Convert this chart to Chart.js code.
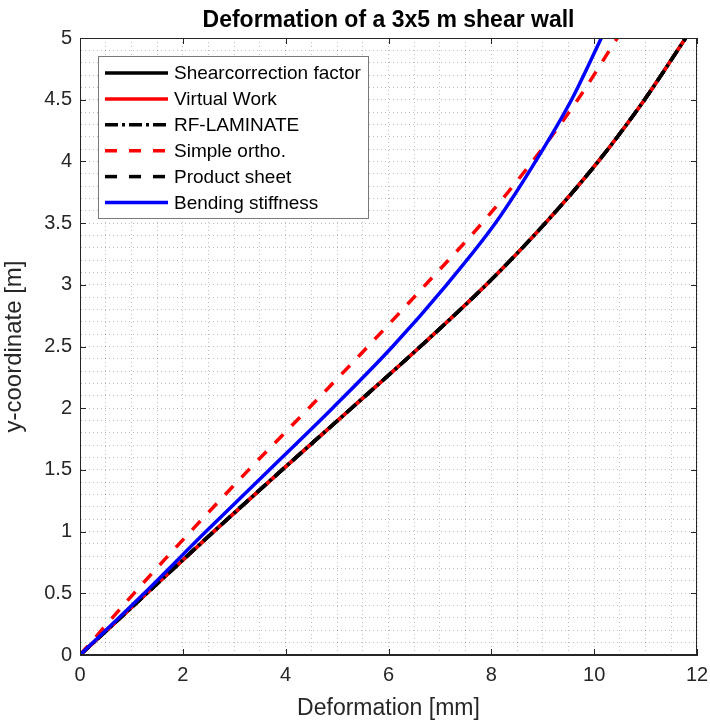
<!DOCTYPE html>
<html>
<head>
<meta charset="utf-8">
<script src="https://cdn.jsdelivr.net/npm/chart.js@4.4.0/dist/chart.umd.min.js"></script>
<style>
    html, body { margin: 0; padding: 0; background: #fff; }
    #wrap { width: 710px; height: 722px; }
</style>
</head>
<body>
<div id="wrap"><canvas id="canvas" width="710" height="722"></canvas></div>
<script>
// y positions along the wall [m]
var yCoord = [0, 0.5, 1.0, 1.5, 2.0, 2.5, 3.0, 3.5, 4.0, 4.5, 5.0];

// deformation [mm]
var shearCorr    = [0, 1.30, 2.60, 3.93, 5.28, 6.62, 7.90, 9.05, 10.08, 10.98, 11.78];
var virtualWork  = [0, 1.30, 2.60, 3.93, 5.28, 6.62, 7.90, 9.05, 10.08, 10.98, 11.78];
var rfLaminate   = [0, 1.30, 2.60, 3.93, 5.28, 6.62, 7.90, 9.05, 10.08, 10.98, 11.78];
var simpleOrtho  = [0, 1.05, 2.15, 3.28, 4.45, 5.60, 6.72, 7.82, 8.80, 9.68, 10.45];
var productSheet = [0, 1.30, 2.60, 3.93, 5.28, 6.62, 7.90, 9.05, 10.08, 10.98, 11.78];
var bendingStiff = [0, 1.25, 2.45, 3.68, 4.91, 6.08, 7.13, 8.08, 8.86, 9.56, 10.14];

var xTicks = [0, 2, 4, 6, 8, 10, 12];
var yTicks = [0, 0.5, 1, 1.5, 2, 2.5, 3, 3.5, 4, 4.5, 5];

var FONT = '"Liberation Sans", Arial, Helvetica, sans-serif';
var AXIS_COLOR = '#262626';
var GRID_COLOR = 'rgba(38,38,38,0.3)';

function toPoints(xs) {
    var pts = [];
    for (var i = 0; i < xs.length; i++) {
        pts.push({x: xs[i], y: yCoord[i]});
    }
    return pts;
}

function makeSet(label, xs, color, dash, idx) {
    return {
        label: label,
        data: toPoints(xs),
        borderColor: color,
        backgroundColor: color,
        borderWidth: 3.5,
        borderDash: dash,
        borderCapStyle: 'butt',
        pointRadius: 0,
        showLine: true,
        fill: false,
        cubicInterpolationMode: 'monotone',
        order: 10 - idx   // first dataset at the bottom, like matlab
    };
}

function isOn(v, list) {
    for (var i = 0; i < list.length; i++) {
        if (Math.abs(v - list[i]) < 1e-6) return true;
    }
    return false;
}

// title, box around the axes, inward tick marks and the legend
var matlabAxes = {
    id: 'matlabAxes',
    afterDraw: function (chart) {
        var ctx = chart.ctx;
        var a = chart.chartArea;
        var xs = chart.scales.x, ys = chart.scales.y;
        var tl = 6;

        ctx.save();
        ctx.fillStyle = '#000';
        ctx.font = 'bold 23px ' + FONT;
        ctx.textAlign = 'center';
        ctx.textBaseline = 'alphabetic';
        ctx.fillText('Deformation of a 3x5 m shear wall', (a.left + a.right) / 2, 27);

        ctx.strokeStyle = AXIS_COLOR;
        ctx.lineWidth = 1;
        ctx.strokeRect(a.left + 0.5, a.top + 0.5, a.right - a.left - 1, a.bottom - a.top - 1);

        ctx.beginPath();
        xTicks.forEach(function (t) {
            var px = Math.round(xs.getPixelForValue(t)) + 0.5;
            ctx.moveTo(px, a.bottom); ctx.lineTo(px, a.bottom - tl);
            ctx.moveTo(px, a.top); ctx.lineTo(px, a.top + tl);
        });
        yTicks.forEach(function (t) {
            var py = Math.round(ys.getPixelForValue(t)) + 0.5;
            ctx.moveTo(a.left, py); ctx.lineTo(a.left + tl, py);
            ctx.moveTo(a.right, py); ctx.lineTo(a.right - tl, py);
        });
        ctx.stroke();

        // legend
        var lx = a.left + 18, ly = a.top + 18;
        var lw = 270, rowH = 25.9, lh = 162;
        ctx.fillStyle = '#fff';
        ctx.fillRect(lx, ly, lw, lh);
        ctx.strokeStyle = '#7a7a7a';
        ctx.strokeRect(lx + 0.5, ly + 0.5, lw, lh);

        ctx.font = '19px ' + FONT;
        ctx.textBaseline = 'middle';
        ctx.textAlign = 'left';
        chart.data.datasets.forEach(function (ds, i) {
            var cy = ly + 17 + i * rowH;
            ctx.save();
            ctx.strokeStyle = ds.borderColor;
            ctx.lineWidth = ds.borderWidth;
            ctx.setLineDash(ds.borderDash || []);
            ctx.beginPath();
            ctx.moveTo(lx + 7, cy);
            ctx.lineTo(lx + 70, cy);
            ctx.stroke();
            ctx.restore();
            ctx.fillStyle = '#000';
            ctx.fillText(ds.label, lx + 76, cy + 1);
        });
        ctx.restore();
    }
};

var datasets = [
    makeSet('Shearcorrection factor', shearCorr, '#000000', [], 0),
    makeSet('Virtual Work', virtualWork, '#ff0000', [], 1),
    makeSet('RF-LAMINATE', rfLaminate, '#000000', [13, 4, 3, 4], 2),
    makeSet('Simple ortho.', simpleOrtho, '#ff0000', [12, 12], 3),
    makeSet('Product sheet', productSheet, '#000000', [12, 12], 4),
    makeSet('Bending stiffness', bendingStiff, '#0000ff', [], 5)
];

const CHART = document.getElementById('canvas');
var lineChart = new Chart(CHART, {
    type: 'scatter',
    data: {datasets: datasets},
    plugins: [matlabAxes],
    options: {
        responsive: false,
        animation: false,
        devicePixelRatio: 1,
        layout: {padding: {left: 0, right: 13, top: 38, bottom: 0}},
        plugins: {
            legend: {display: false},
            tooltip: {enabled: false},
            title: {display: false}
        },
        scales: {
            x: {
                type: 'linear',
                min: 0, max: 12,
                afterFit: function (s) {
                    s.height = 67;
                    s.paddingLeft = 0;
                    s.paddingRight = 0;
                },
                ticks: {
                    stepSize: 0.5,
                    autoSkip: false,
                    maxRotation: 0,
                    color: AXIS_COLOR,
                    padding: 8,
                    font: {family: FONT, size: 20},
                    callback: function (v) { return isOn(v, xTicks) ? String(v) : ''; }
                },
                grid: {color: GRID_COLOR, lineWidth: 1, drawTicks: false},
                border: {display: true, color: AXIS_COLOR, dash: [1, 3]},
                title: {
                    display: true,
                    text: 'Deformation [mm]',
                    color: AXIS_COLOR,
                    font: {family: FONT, size: 23},
                    padding: {top: 3, bottom: 0}
                }
            },
            y: {
                type: 'linear',
                min: 0, max: 5,
                afterFit: function (s) {
                    s.width = 80;
                    s.paddingTop = 0;
                    s.paddingBottom = 0;
                },
                ticks: {
                    stepSize: 0.1,
                    autoSkip: false,
                    color: AXIS_COLOR,
                    padding: 8,
                    font: {family: FONT, size: 20},
                    callback: function (v) { return isOn(v, yTicks) ? String(v) : ''; }
                },
                grid: {color: GRID_COLOR, lineWidth: 1, drawTicks: false},
                border: {display: true, color: AXIS_COLOR, dash: [1, 3]},
                title: {
                    display: true,
                    text: 'y-coordinate [m]',
                    color: AXIS_COLOR,
                    font: {family: FONT, size: 24},
                    padding: {top: 0, bottom: 4}
                }
            }
        }
    }
});
</script>
</body>
</html>
